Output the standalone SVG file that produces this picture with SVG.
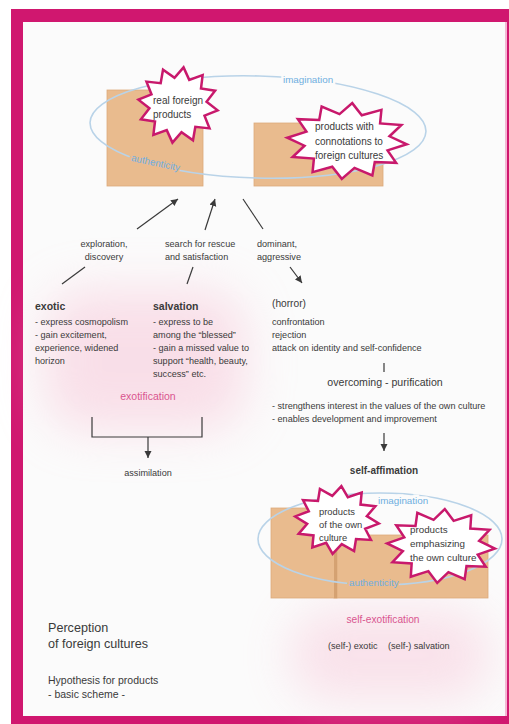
<svg xmlns="http://www.w3.org/2000/svg" xmlns:xlink="http://www.w3.org/1999/xlink" width="509" height="724" viewBox="0 0 509 724">
<defs>
<style>
text{font-family:"Liberation Sans",Arial,sans-serif;fill:#3a3a3a}
.t9{font-size:9.1px}
.t10{font-size:10px}
.b{font-size:10.5px;font-weight:bold}
.blue{fill:#6eaee0;font-size:9.8px}
.pink{fill:#d9558f;font-size:10.5px}
.tan{fill:#e9bb8e;stroke:#dcaa7c;stroke-width:0.8}
.ell{fill:none;stroke:#b9d3e8;stroke-width:1.6}
.star{fill:#fff;stroke:#c8196c;stroke-width:2.5;stroke-linejoin:miter;vector-effect:non-scaling-stroke}
.ln{stroke:#3a3a3a;stroke-width:1.2;fill:none}
.glow{fill:#f7c3d6;filter:url(#blur)}
</style>
<marker id="ah" markerUnits="userSpaceOnUse" markerWidth="8" markerHeight="8" refX="7" refY="3.5" orient="auto">
<path d="M0,0 L7,3.5 L0,7 z" fill="#3a3a3a"/>
</marker>
<filter id="blur" x="-50%" y="-50%" width="200%" height="200%"><feGaussianBlur stdDeviation="24"/></filter>
</defs>
<rect x="0" y="0" width="509" height="724" fill="#fff"/>
<rect x="11" y="9" width="498" height="715" fill="#d0176f"/>
<rect x="23" y="22" width="482" height="694" fill="#fbfbfb"/>
<rect x="505" y="22" width="2" height="694" fill="#f4b8d4"/>
<!-- pink glows -->
<rect class="glow" x="45" y="290" width="200" height="140" rx="40" opacity="0.5"/>
<rect class="glow" x="290" y="610" width="200" height="90" rx="40" opacity="0.45"/>

<g id="top-diagram">
<rect class="tan" x="107" y="90" width="96" height="96"/>
<rect class="tan" x="254" y="123" width="129" height="63"/>
<ellipse class="ell" cx="258" cy="127" rx="168" ry="51" transform="rotate(1.5 258 127)"/>
<text class="blue" x="283" y="83" stroke="#fbfbfb" stroke-width="5" paint-order="stroke">imagination</text>
<text class="blue" x="130" y="166" transform="rotate(12 155 167)" stroke="#e9bb8e" stroke-width="4" paint-order="stroke">authenticity</text>
</g>

<g id="real-foreign-products">
<polygon class="star" transform="translate(178,105) scale(40,38) rotate(8)" points="0,-1 0.186,-0.695 0.5,-0.866 0.509,-0.509 0.866,-0.5 0.695,-0.186 1,0 0.695,0.186 0.866,0.5 0.509,0.509 0.5,0.866 0.186,0.695 0,1 -0.186,0.695 -0.5,0.866 -0.509,0.509 -0.866,0.5 -0.695,0.186 -1,0 -0.695,-0.186 -0.866,-0.5 -0.509,-0.509 -0.5,-0.866 -0.186,-0.695"/>
<text class="t10" x="153" y="104">real foreign</text>
<text class="t10" x="153" y="118">products</text>
</g>

<g id="products-connotations">
<polygon class="star" transform="translate(347,141) scale(60,38) rotate(5)" points="0,-1 0.186,-0.695 0.5,-0.866 0.509,-0.509 0.866,-0.5 0.695,-0.186 1,0 0.695,0.186 0.866,0.5 0.509,0.509 0.5,0.866 0.186,0.695 0,1 -0.186,0.695 -0.5,0.866 -0.509,0.509 -0.866,0.5 -0.695,0.186 -1,0 -0.695,-0.186 -0.866,-0.5 -0.509,-0.509 -0.5,-0.866 -0.186,-0.695"/>
<text class="t10" x="315" y="130">products with</text>
<text class="t10" x="315" y="145">connotations to</text>
<text class="t10" x="315" y="159">foreign cultures</text>
</g>

<g id="connectors">
<line class="ln" x1="137" y1="229" x2="178" y2="199" marker-end="url(#ah)"/>
<line class="ln" x1="205" y1="230" x2="215" y2="199" marker-end="url(#ah)"/>
<line class="ln" x1="243" y1="199" x2="263" y2="229"/>
<line class="ln" x1="85" y1="267" x2="62" y2="284"/>
<line class="ln" x1="193" y1="267" x2="187" y2="284"/>
<line class="ln" x1="290" y1="267" x2="302" y2="283" marker-end="url(#ah)"/>
<line class="ln" x1="384" y1="363" x2="384" y2="372"/>
<line class="ln" x1="384" y1="433" x2="384" y2="451" marker-end="url(#ah)"/>
<path class="ln" d="M92,417 V437 H202 V417"/>
<line class="ln" x1="148" y1="437" x2="148" y2="458" marker-end="url(#ah)"/>
</g>

<g id="labels">
<text class="t9" x="104" y="247" text-anchor="middle">exploration,</text>
<text class="t9" x="104" y="260" text-anchor="middle">discovery</text>
<text class="t9" x="165" y="247">search for rescue</text>
<text class="t9" x="165" y="260">and satisfaction</text>
<text class="t9" x="257" y="247">dominant,</text>
<text class="t9" x="257" y="260">aggressive</text>
</g>

<g id="exotic">
<text class="b" x="35" y="310">exotic</text>
<text class="t9" x="35" y="325">- express cosmopolism</text>
<text class="t9" x="35" y="338">- gain excitement,</text>
<text class="t9" x="35" y="351">experience, widened</text>
<text class="t9" x="35" y="364">horizon</text>
</g>

<g id="salvation">
<text class="b" x="153" y="310">salvation</text>
<text class="t9" x="153" y="325">- express to be</text>
<text class="t9" x="153" y="338">among the “blessed”</text>
<text class="t9" x="153" y="351">- gain a missed value to</text>
<text class="t9" x="153" y="364">support “health, beauty,</text>
<text class="t9" x="153" y="377">success” etc.</text>
</g>

<g id="exotification">
<text class="pink" x="148" y="400" text-anchor="middle">exotification</text>
</g>

<g id="assimilation">
<text class="t9" x="148" y="476" text-anchor="middle">assimilation</text>
</g>

<g id="horror">
<text x="272" y="307" style="font-size:10.2px">(horror)</text>
<text class="t9" x="272" y="325">confrontation</text>
<text class="t9" x="272" y="338">rejection</text>
<text class="t9" x="272" y="351">attack on identity and self-confidence</text>
</g>

<g id="overcoming">
<text x="385" y="386" text-anchor="middle" style="font-size:10.6px">overcoming - purification</text>
<text class="t9" x="272" y="409">- strengthens interest in the values of the own culture</text>
<text class="t9" x="272" y="422">- enables development and improvement</text>
</g>

<g id="self-affimation">
<text x="384" y="474" text-anchor="middle" style="font-size:10px;font-weight:bold">self-affimation</text>
</g>

<g id="bottom-diagram">
<rect class="tan" x="334" y="535" width="154" height="63"/>
<rect class="tan" x="271" y="508" width="66" height="90"/>
<rect x="334" y="538" width="3" height="60" fill="#cf9c6c" opacity="0.8"/>
<ellipse class="ell" cx="380" cy="539" rx="122" ry="46"/>
<text class="blue" x="378" y="504" stroke="#fbfbfb" stroke-width="5" paint-order="stroke">imagination</text>
<text class="blue" x="349" y="586" stroke="#e9bb8e" stroke-width="4" paint-order="stroke">authenticity</text>
</g>

<g id="products-own-culture">
<polygon class="star" transform="translate(337,520) scale(42,34) rotate(6)" points="0,-1 0.186,-0.695 0.5,-0.866 0.509,-0.509 0.866,-0.5 0.695,-0.186 1,0 0.695,0.186 0.866,0.5 0.509,0.509 0.5,0.866 0.186,0.695 0,1 -0.186,0.695 -0.5,0.866 -0.509,0.509 -0.866,0.5 -0.695,0.186 -1,0 -0.695,-0.186 -0.866,-0.5 -0.509,-0.509 -0.5,-0.866 -0.186,-0.695"/>
<text x="319" y="515" style="font-size:9.4px">products</text>
<text x="319" y="528" style="font-size:9.4px">of the own</text>
<text x="319" y="541" style="font-size:9.4px">culture</text>
</g>

<g id="products-emphasizing">
<polygon class="star" transform="translate(441,546) scale(54,37) rotate(4)" points="0,-1 0.186,-0.695 0.5,-0.866 0.509,-0.509 0.866,-0.5 0.695,-0.186 1,0 0.695,0.186 0.866,0.5 0.509,0.509 0.5,0.866 0.186,0.695 0,1 -0.186,0.695 -0.5,0.866 -0.509,0.509 -0.866,0.5 -0.695,0.186 -1,0 -0.695,-0.186 -0.866,-0.5 -0.509,-0.509 -0.5,-0.866 -0.186,-0.695"/>
<text x="410" y="533" style="font-size:9.8px">products</text>
<text x="410" y="547" style="font-size:9.8px">emphasizing</text>
<text x="410" y="561" style="font-size:9.8px">the own culture</text>
</g>

<g id="self-exotification">
<text class="pink" x="383" y="623" text-anchor="middle" style="font-size:10.2px">self-exotification</text>
<text class="t9" x="328" y="649">(self-) exotic</text>
<text class="t9" x="388" y="649">(self-) salvation</text>
</g>

<g id="title">
<text x="48" y="632" style="font-size:12.6px">Perception</text>
<text x="48" y="648" style="font-size:12.6px">of foreign cultures</text>
<text x="48" y="684" style="font-size:10.5px">Hypothesis for products</text>
<text x="48" y="698" style="font-size:10.5px">- basic scheme -</text>
</g>
</svg>
